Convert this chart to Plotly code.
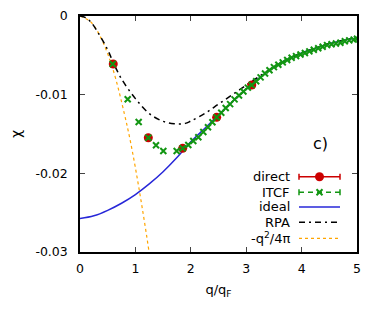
import plotly.graph_objects as go

# ---- data ----
q_direct = [0.60, 1.233, 1.853, 2.467, 3.10]
chi_direct = [-0.0061, -0.01547, -0.01682, -0.01288, -0.00877]

q_itcf = [0.59, 0.861, 1.059, 1.233, 1.372, 1.504, 1.745, 1.853, 1.955, 2.045, 2.136,
          2.226, 2.31, 2.39, 2.467, 2.55, 2.63, 2.71, 2.79, 2.87, 2.95, 3.03, 3.10,
          3.18, 3.26, 3.34, 3.42, 3.50, 3.58, 3.66, 3.74, 3.82, 3.90, 3.98, 4.06,
          4.14, 4.22, 4.30, 4.38, 4.46, 4.54, 4.62, 4.70, 4.78, 4.86, 4.94, 5.0]
chi_itcf = [-0.0061, -0.01059, -0.01347, -0.01547, -0.01644, -0.01716, -0.01716,
            -0.01682, -0.0164, -0.01589, -0.01542, -0.01475, -0.01415, -0.0135,
            -0.01288, -0.0123, -0.0117, -0.0112, -0.0106, -0.0101, -0.0096, -0.0091,
            -0.00877, -0.0083, -0.0078, -0.0073, -0.0069, -0.0065, -0.0062, -0.0059,
            -0.0056, -0.0053, -0.0051, -0.0049, -0.0047, -0.0045, -0.0043, -0.0041,
            -0.0039, -0.0037, -0.0036, -0.0035, -0.0034, -0.0032, -0.0031, -0.0030,
            -0.0029]

q_ideal = [0, 0.25, 0.5, 0.75, 1.0, 1.25, 1.5, 1.75, 2.0, 2.25, 2.5, 2.75, 3.0,
           3.25, 3.5, 3.75, 4.0, 4.25, 4.5, 4.75, 5.0]
chi_ideal = [-0.02575, -0.0254, -0.0247, -0.0238, -0.0227, -0.02135, -0.0198,
             -0.0180, -0.0160, -0.0143, -0.0126, -0.0109, -0.0093, -0.0078,
             -0.0065, -0.0055, -0.0047, -0.0041, -0.0035, -0.0031, -0.0028]

q_rpa = [0, 0.1, 0.2, 0.35, 0.5, 0.6, 0.75, 1.0, 1.25, 1.5, 1.7, 1.9, 2.0, 2.25,
         2.5, 2.75, 3.0, 3.25, 3.5, 3.75, 4.0, 4.25, 4.5, 4.75, 5.0]
chi_rpa = [0, -0.0002, -0.0008, -0.0024, -0.0043, -0.0059, -0.0080, -0.0105,
           -0.0124, -0.0134, -0.0137, -0.01365, -0.01335, -0.0124, -0.0112, -0.0100,
           -0.0088, -0.0076, -0.0065, -0.0055, -0.0047, -0.0041, -0.0035, -0.0031,
           -0.0028]

q_lw = [0, 0.2, 0.4, 0.6, 0.8, 0.9, 1.0, 1.1, 1.2, 1.3]
chi_lw = [0, -0.0008, -0.0031, -0.0069, -0.0124, -0.0156, -0.0193, -0.0234,
          -0.0278, -0.0326]

y_tickvals = [0, -0.01, -0.02, -0.03]
y_ticktext = ["0", "-0.01", "-0.02", "-0.03"]
x_tickvals = [0, 1, 2, 3, 4, 5]

legend_labels = ["direct", "ITCF", "ideal", "RPA", "-q<sup>2</sup>/4π"]

RED = "#cc0000"
GREEN = "#129612"
BLUE = "#2727d8"
ORANGE = "#ffa500"
FONT = "DejaVu Sans"
RPA_DASH = "6px,4px,2px,4px"

fig = go.Figure()

fig.add_trace(go.Scatter(x=q_lw, y=chi_lw, mode="lines", line=dict(color=ORANGE, width=1.2, dash="dot"),
                         line_shape="spline", showlegend=False))
fig.add_trace(go.Scatter(x=q_ideal, y=chi_ideal, mode="lines", line=dict(color=BLUE, width=1.5),
                         line_shape="spline", showlegend=False))
fig.add_trace(go.Scatter(x=q_rpa, y=chi_rpa, mode="lines",
                         line=dict(color="black", width=1.5, dash=RPA_DASH),
                         line_shape="spline", showlegend=False))
fig.add_trace(go.Scatter(x=q_direct, y=chi_direct, mode="markers",
                         marker=dict(color=RED, size=9, symbol="circle"), showlegend=False))
fig.add_trace(go.Scatter(x=q_itcf, y=chi_itcf, mode="markers",
                         marker=dict(color=GREEN, size=6, symbol="x-thin", line=dict(color=GREEN, width=2)),
                         showlegend=False))

# ---- manual legend (gnuplot style: text right, sample left) on pixel-like overlay axes ----
rows = [176.7, 192.3, 206.9, 222.3, 238.3]
x0s, x1s, xc = 299, 340, 319.5
fig.add_trace(go.Scatter(x=[xc], y=[rows[0]], xaxis="x2", yaxis="y2", mode="markers",
                         marker=dict(color=RED, size=9),
                         error_x=dict(type="data", array=[20.5], color=RED, thickness=1.5, width=3),
                         showlegend=False, hoverinfo="skip"))
fig.add_trace(go.Scatter(x=[x0s, x1s], y=[rows[1], rows[1]], xaxis="x2", yaxis="y2", mode="lines",
                         line=dict(color=GREEN, width=1.5, dash="5px,4px"),
                         error_y=dict(type="data", array=[3, 3], color=GREEN, thickness=1.5, width=0),
                         showlegend=False, hoverinfo="skip"))
fig.add_trace(go.Scatter(x=[xc], y=[rows[1]], xaxis="x2", yaxis="y2", mode="markers",
                         marker=dict(color=GREEN, size=6, symbol="x-thin", line=dict(color=GREEN, width=2)),
                         showlegend=False, hoverinfo="skip"))
fig.add_trace(go.Scatter(x=[x0s, x1s], y=[rows[2], rows[2]], xaxis="x2", yaxis="y2", mode="lines",
                         line=dict(color=BLUE, width=1.5), showlegend=False, hoverinfo="skip"))
fig.add_trace(go.Scatter(x=[x0s, x1s], y=[rows[3], rows[3]], xaxis="x2", yaxis="y2", mode="lines",
                         line=dict(color="black", width=1.5, dash=RPA_DASH),
                         showlegend=False, hoverinfo="skip"))
fig.add_trace(go.Scatter(x=[x0s, x1s], y=[rows[4], rows[4]], xaxis="x2", yaxis="y2", mode="lines",
                         line=dict(color=ORANGE, width=1.2, dash="dot"), showlegend=False, hoverinfo="skip"))

annotations = []
for lab, yy in zip(legend_labels, rows):
    annotations.append(dict(x=292, y=yy, xref="x2", yref="y2", text=lab, showarrow=False,
                            xanchor="right", yanchor="middle", font=dict(family=FONT, size=13, color="black")))
annotations.append(dict(x=320, y=143, xref="x2", yref="y2", text="c)", showarrow=False,
                        xanchor="center", yanchor="middle", font=dict(family=FONT, size=16, color="black")))

# page body has an 8px margin: figure is 8px smaller and margins shifted accordingly
fig.update_layout(
    width=374, height=308,
    margin=dict(l=72, r=25, t=8, b=64, autoexpand=False),
    paper_bgcolor="white", plot_bgcolor="white",
    font=dict(family=FONT, size=12.5, color="black"),
    xaxis=dict(range=[0, 5], tickvals=x_tickvals, ticks="inside", ticklen=5, tickwidth=1.2,
               showline=True, linecolor="black", linewidth=1.5, mirror="ticks", showgrid=False,
               zeroline=False, ticklabelstandoff=4, automargin=False,
               title=dict(text="q/q<sub>F</sub>", font=dict(family=FONT, size=13), standoff=10)),
    yaxis=dict(range=[-0.03, 0], tickvals=y_tickvals, ticktext=y_ticktext, ticks="inside", ticklen=5,
               tickwidth=1.2, showline=True, linecolor="black", linewidth=1.5, mirror="ticks",
               showgrid=False, zeroline=False, ticklabelstandoff=8, automargin=False,
               title=dict(text="χ", font=dict(family=FONT, size=14), standoff=14)),
    xaxis2=dict(range=[80, 357], overlaying="x", visible=False, fixedrange=True, automargin=False),
    yaxis2=dict(range=[252, 16], overlaying="y", visible=False, fixedrange=True, automargin=False),
    annotations=annotations,
)

fig.write_html("out.html")
